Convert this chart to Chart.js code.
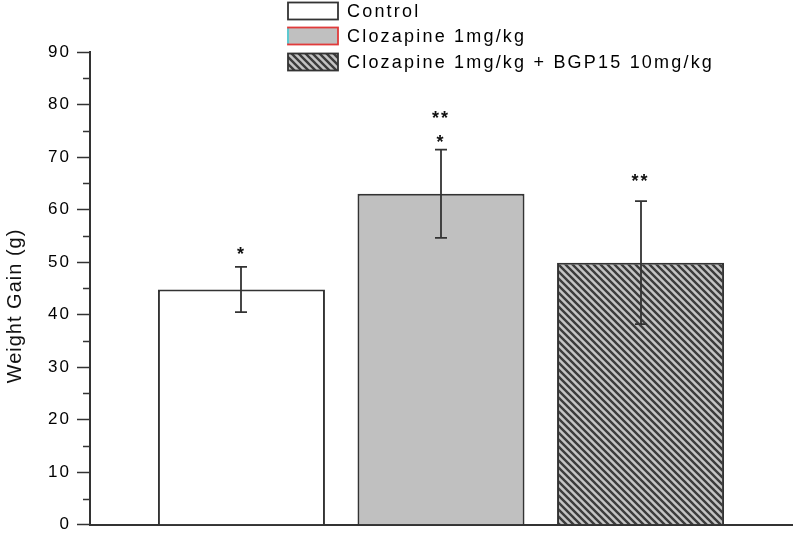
<!DOCTYPE html>
<html>
<head>
<meta charset="utf-8">
<script src="https://cdn.jsdelivr.net/npm/chart.js@4/dist/chart.umd.min.js"></script>
<style>
  html, body { margin: 0; padding: 0; background: #fff; }
  #wrap { width: 793px; height: 541px; }
</style>
</head>
<body>
<div id="wrap"><canvas id="myChart"></canvas></div>
<script>
const groups = ['Control', 'Clozapine 1mg/kg', 'Clozapine 1mg/kg + BGP15 10mg/kg'];
const means = [44.8, 63.0, 49.9];
const sems = [4.3, 8.4, 11.7];
const yTicks = [0, 10, 20, 30, 40, 50, 60, 70, 80, 90];
const yMinor = [5, 15, 25, 35, 45, 55, 65, 75, 85];

// significance marks: which bar, text, value where it sits
const sigBars = [0, 1, 1, 2];
const sigText = ['*', '*', '**', '**'];
const sigValues = [52.4, 73.6, 78.2, 66.3];

const axisColor = '#333';

function hatch() {
  const s = 7;
  const c = document.createElement('canvas');
  c.width = s; c.height = s;
  const g = c.getContext('2d');
  g.fillStyle = '#c4c4c4';
  g.fillRect(0, 0, s, s);
  g.strokeStyle = '#3c3c3c';
  g.lineWidth = 2.4;
  g.beginPath();
  g.moveTo(-1, -1); g.lineTo(s + 1, s + 1);
  g.moveTo(-2, s - 2); g.lineTo(2, s + 2);
  g.moveTo(s - 2, -2); g.lineTo(s + 2, 2);
  g.stroke();
  return g.createPattern(c, 'repeat');
}

const fills = ['#ffffff', '#c0c0c0', hatch()];

// minor ticks on the y axis
const minorTicks = {
  id: 'minorTicks',
  afterDraw(chart) {
    const { ctx, scales: { y }, chartArea } = chart;
    ctx.save();
    ctx.strokeStyle = axisColor;
    ctx.lineWidth = 1.5;
    ctx.beginPath();
    yMinor.forEach(v => {
      const py = Math.round(y.getPixelForValue(v)) + 0.5;
      ctx.moveTo(chartArea.left - 7, py);
      ctx.lineTo(chartArea.left, py);
    });
    ctx.stroke();
    ctx.restore();
  }
};

const errorBars = {
  id: 'errorBars',
  afterDatasetsDraw(chart) {
    const { ctx, scales: { y } } = chart;
    ctx.save();
    ctx.strokeStyle = axisColor;
    ctx.lineWidth = 1.8;
    means.forEach((m, i) => {
      const bar = chart.getDatasetMeta(i).data[0];
      const x = Math.round(bar.x);
      const hi = y.getPixelForValue(m + sems[i]);
      const lo = y.getPixelForValue(m - sems[i]);
      ctx.beginPath();
      ctx.moveTo(x, hi); ctx.lineTo(x, lo);
      ctx.moveTo(x - 6, hi); ctx.lineTo(x + 6, hi);
      ctx.moveTo(x - 6, lo); ctx.lineTo(x + 6, lo);
      ctx.stroke();
    });
    // significance stars
    ctx.fillStyle = '#111';
    ctx.font = 'bold 18px "Liberation Sans", Arial, sans-serif';
    ctx.textAlign = 'center';
    ctx.textBaseline = 'alphabetic';
    sigText.forEach((t, k) => {
      const bar = chart.getDatasetMeta(sigBars[k]).data[0];
      const py = y.getPixelForValue(sigValues[k]);
      const n = t.length;
      for (let j = 0; j < n; j++) {
        ctx.fillText(t[j], bar.x + (j - (n - 1) / 2) * 9, py + 10);
      }
    });
    ctx.restore();
  }
};

const legendBox = {
  id: 'legendBox',
  afterDraw(chart) {
    const { ctx } = chart;
    const rows = [11, 36, 62];
    ctx.save();
    ctx.font = '18px "Liberation Sans", Arial, sans-serif';
    ctx.letterSpacing = '2.2px';
    ctx.textBaseline = 'middle';
    ctx.textAlign = 'left';
    chart.data.datasets.forEach((ds, i) => {
      const cy = rows[i];
      const bx = 288, bw = 50, bh = 17, by = cy - bh / 2;
      ctx.fillStyle = ds.backgroundColor;
      ctx.fillRect(bx, by, bw, bh);
      ctx.lineWidth = 1.8;
      ctx.strokeStyle = i === 1 ? '#e03a3a' : axisColor;
      ctx.strokeRect(bx, by, bw, bh);
      if (i === 1) {
        ctx.strokeStyle = '#4fd8e0';
        ctx.beginPath();
        ctx.moveTo(bx, by + 1); ctx.lineTo(bx, by + bh - 1);
        ctx.stroke();
      }
      ctx.fillStyle = '#000';
      ctx.fillText(ds.label, 347, cy + 1);
    });
    ctx.restore();
  }
};

const yTitle = {
  id: 'yTitle',
  afterDraw(chart) {
    const { ctx } = chart;
    ctx.save();
    ctx.translate(21, 306);
    ctx.rotate(-Math.PI / 2);
    ctx.font = '20px "Liberation Sans", Arial, sans-serif';
    ctx.letterSpacing = '1px';
    ctx.fillStyle = '#111';
    ctx.textAlign = 'center';
    ctx.textBaseline = 'alphabetic';
    ctx.fillText('Weight Gain (g)', 0, 0);
    ctx.restore();
  }
};

const tickSpacing = {
  id: 'tickSpacing',
  beforeDraw(chart) { chart.ctx.letterSpacing = '2px'; }
};

const ctx = document.getElementById('myChart');

new Chart(ctx, {
  type: 'bar',
  data: {
    datasets: groups.map((g, i) => ({
      label: g,
      data: [{ x: i + 1, y: means[i] }],
      backgroundColor: fills[i],
      borderColor: axisColor,
      borderWidth: 2,
      grouped: false,
      categoryPercentage: 1,
      barPercentage: 0.837
    }))
  },
  options: {
    responsive: true,
    maintainAspectRatio: false,
    animation: false,
    layout: { padding: { top: 52, right: 1, left: 0, bottom: 0 } },
    plugins: {
      legend: { display: false },
      tooltip: { enabled: false }
    },
    scales: {
      x: {
        type: 'linear',
        offset: false,
        min: 0.241,
        max: 3.759,
        afterBuildTicks: s => { s.ticks = groups.map((g, i) => ({ value: i + 1 })); },
        grid: { display: false },
        ticks: { display: false },
        border: { display: true, color: axisColor, width: 2 },
        afterFit: s => { s.height = 6; }
      },
      y: {
        min: yTicks[0],
        max: yTicks[yTicks.length - 1],
        afterBuildTicks: s => { s.ticks = yTicks.map(v => ({ value: v })); },
        grid: {
          drawOnChartArea: false,
          drawTicks: true,
          tickLength: 13,
          tickColor: axisColor,
          tickWidth: 1.5
        },
        border: { display: true, color: axisColor, width: 2 },
        ticks: {
          color: '#000',
          padding: 6,
          font: { family: '"Liberation Sans", Arial, sans-serif', size: 17 }
        },
        afterFit: s => { s.width = 90; }
      }
    }
  },
  plugins: [tickSpacing, minorTicks, errorBars, legendBox, yTitle]
});
</script>
</body>
</html>
